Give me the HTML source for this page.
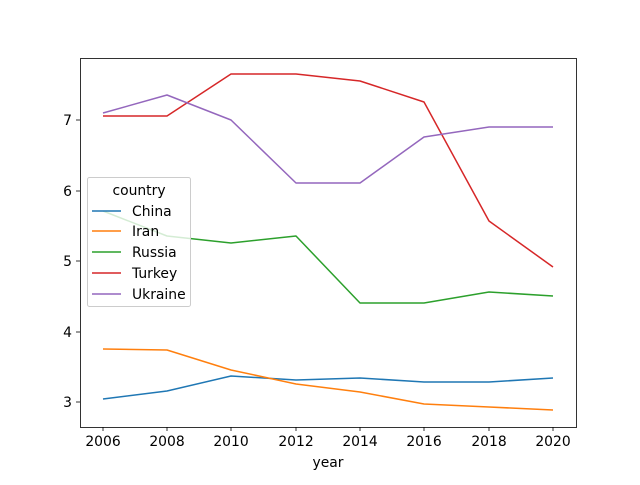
<!DOCTYPE html>
<html><head><style>body{margin:0;background:#fff}</style></head><body>
<svg width="640" height="480" xmlns="http://www.w3.org/2000/svg" font-family="DejaVu Sans, Liberation Sans, sans-serif" font-size="13.9">
<rect width="640" height="480" fill="#fff"/>
<g fill="none" stroke-width="1.5" stroke-linejoin="round">
<polyline stroke="#1f77b4" points="103,399 167,391 231,376 296,380 360,378 424,382 489,382 553,378"/>
<polyline stroke="#ff7f0e" points="103,349 167,350 231,370 296,384 360,392 424,404 489,407 553,410"/>
<polyline stroke="#2ca02c" points="103,211 167,236 231,243 296,236 360,303 424,303 489,292 553,296"/>
<polyline stroke="#d62728" points="103,116 167,116 231,74 296,74 360,81 424,102 489,221 553,267"/>
<polyline stroke="#9467bd" points="103,113 167,95 231,120 296,183 360,183 424,137 489,127 553,127"/>
</g>
<rect x="80.5" y="58.5" width="496" height="369" fill="none" stroke="#000" stroke-width="0.8"/>
<g stroke="#000" stroke-width="0.8">
<line x1="103" y1="427" x2="103" y2="431"/><line x1="167" y1="427" x2="167" y2="431"/><line x1="231" y1="427" x2="231" y2="431"/><line x1="296" y1="427" x2="296" y2="431"/><line x1="360" y1="427" x2="360" y2="431"/><line x1="424" y1="427" x2="424" y2="431"/><line x1="489" y1="427" x2="489" y2="431"/><line x1="553" y1="427" x2="553" y2="431"/>
<line x1="76" y1="402" x2="80" y2="402"/><line x1="76" y1="332" x2="80" y2="332"/><line x1="76" y1="261" x2="80" y2="261"/><line x1="76" y1="191" x2="80" y2="191"/><line x1="76" y1="120" x2="80" y2="120"/>
</g>
<g text-anchor="middle" fill="#000">
<text x="103" y="446">2006</text><text x="167" y="446">2008</text><text x="231" y="446">2010</text><text x="296" y="446">2012</text><text x="360" y="446">2014</text><text x="424" y="446">2016</text><text x="489" y="446">2018</text><text x="553" y="446">2020</text>
<text x="328" y="467">year</text>
</g>
<g text-anchor="end" fill="#000">
<text x="72" y="407">3</text><text x="72" y="337">4</text><text x="72" y="266">5</text><text x="72" y="196">6</text><text x="72" y="125">7</text>
</g>
<rect x="87.5" y="177.5" width="103" height="129" rx="2" fill="#fff" fill-opacity="0.8" stroke="#ccc"/>
<text x="139" y="195" text-anchor="middle">country</text>
<g stroke-width="1.5">
<line x1="92" y1="211" x2="121" y2="211" stroke="#1f77b4"/>
<line x1="92" y1="231" x2="121" y2="231" stroke="#ff7f0e"/>
<line x1="92" y1="252" x2="121" y2="252" stroke="#2ca02c"/>
<line x1="92" y1="273" x2="121" y2="273" stroke="#d62728"/>
<line x1="92" y1="294" x2="121" y2="294" stroke="#9467bd"/>
</g>
<text x="132" y="216">China</text><text x="132" y="236">Iran</text><text x="132" y="257">Russia</text><text x="132" y="278">Turkey</text><text x="132" y="299">Ukraine</text>
</svg>
</body></html>
